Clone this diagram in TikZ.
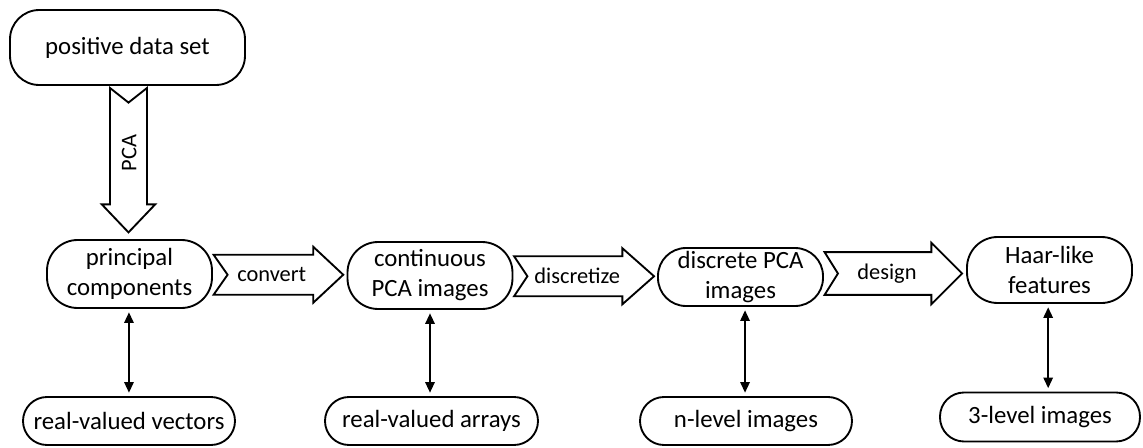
\documentclass[tikz,border=0pt]{standalone}
\usepackage{fontspec}
\setmainfont{Carlito}
\usetikzlibrary{calc,arrows.meta}
\begin{document}
\begin{tikzpicture}[x=0.75pt,y=-0.75pt,
  sz/.style 2 args={minimum width=#1*0.75pt, minimum height=#2*0.75pt},
  box/.style={draw, line width=1.4pt, rounded corners=23pt, align=center, inner sep=0pt, fill=white,
    font=\fontsize{18.6}{22.5}\selectfont},
  sbox/.style={box, rounded corners=18pt},
  blk/.style={draw, line width=1.4pt, fill=white, line join=miter},
  lbl/.style={font=\fontsize{16.8}{20}\selectfont, inner sep=0pt},
  dbl/.style={line width=1.5pt, {Triangle[length=8pt,width=7pt]}-{Triangle[length=8pt,width=7pt]}, shorten >=2.5pt, shorten <=2.5pt}]
\useasboundingbox (0,0) rectangle (1143,447);

% main nodes
\node[box, sz={235}{75}, rounded corners=22pt] (pds) at (127.5,47.5) {positive data set};
\node[box, sz={165}{68}] (pc) at (129.5,274) {principal\\components};
\node[box, sz={165}{67}] (cpi) at (430,275.5) {continuous\\PCA images};
\node[box, sz={165}{58}, rounded corners=21pt] (dpi) at (740.5,277) {discrete PCA\\images};
\node[box, sz={165}{66}] (haar) at (1049.5,270) {Haar-like\\features};

% bottom nodes
\node[sbox, sz={212}{48}] (rvv) at (129,421) {real-valued vectors};
\node[sbox, sz={213}{48}] (rva) at (431.5,421) {real-valued arrays};
\node[sbox, sz={212}{48}] (nli) at (746,421) {n-level images};
\node[sbox, sz={200}{49}] (tli) at (1040,417) {3-level images};

% PCA block arrow (vertical)
\draw[blk] let \p1=(pds.south), \p2=(pc.north), \p3=($(\p1)!.5!(\p2)$) in
  (\x3-13.9pt,\y1-1.5pt) -- (\x3,\y1-12.5pt) -- (\x3+13.9pt,\y1-1.5pt) --
  (\x3+13.9pt,\y2+26pt) -- (\x3+20pt,\y2+26pt) -- (\x3,\y2+5pt) --
  (\x3-20pt,\y2+26pt) -- (\x3-13.9pt,\y2+26pt) -- cycle
  ({\x3+0.5pt},{(\y1+\y2)/2+7pt}) node[lbl, rotate=90] {PCA};

% horizontal block arrows
\draw[blk] let \p1=(pc.east), \p2=(cpi.west), \p3=($(\p1)!.5!(\p2)$) in
  (\x1+0.5pt,\y3+15pt) -- (\x2-25pt,\y3+15pt) -- (\x2-25pt,\y3+21pt) -- (\x2-2.5pt,\y3) --
  (\x2-25pt,\y3-21pt) -- (\x2-25pt,\y3-15pt) -- (\x1+0.5pt,\y3-15pt) -- (\x1+11pt,\y3) -- cycle
  ({(\x1+\x2)/2-6pt},\y3) node[lbl] {convert};

\draw[blk] let \p1=(cpi.east), \p2=(dpi.west), \p3=($(\p1)!.5!(\p2)$) in
  (\x1+0.5pt,\y3+15pt) -- (\x2-26pt,\y3+15pt) -- (\x2-26pt,\y3+21pt) -- (\x2-2.25pt,\y3) --
  (\x2-26pt,\y3-21pt) -- (\x2-26pt,\y3-15pt) -- (\x1+0.5pt,\y3-15pt) -- (\x1+10.5pt,\y3) -- cycle
  ({(\x1+\x2)/2-6pt},\y3) node[lbl] {discretize};

\draw[blk] let \p1=(dpi.east), \p2=(haar.west), \p3=($(\p1)!.5!(\p2)$) in
  (\x1+0.5pt,\y3+16pt) -- (\x2-26pt,\y3+16pt) -- (\x2-26pt,\y3+23pt) -- (\x2-3pt,\y3) --
  (\x2-26pt,\y3-23pt) -- (\x2-26pt,\y3-16pt) -- (\x1+0.5pt,\y3-16pt) -- (\x1+10.5pt,\y3) -- cycle
  ({(\x1+\x2)/2-6pt},\y3) node[lbl] {design};

% double arrows
\draw[dbl] ([xshift=-0.4pt]pc.south) -- ([xshift=-0.4pt]pc.south |- rvv.north);
\draw[dbl] (cpi.south) -- (cpi.south |- rva.north);
\draw[dbl] ([xshift=3.4pt]dpi.south) -- ([xshift=3.4pt]dpi.south |- nli.north);
\draw[dbl] ([xshift=-1pt]haar.south) -- ([xshift=-1pt]haar.south |- tli.north);
\end{tikzpicture}
\end{document}
